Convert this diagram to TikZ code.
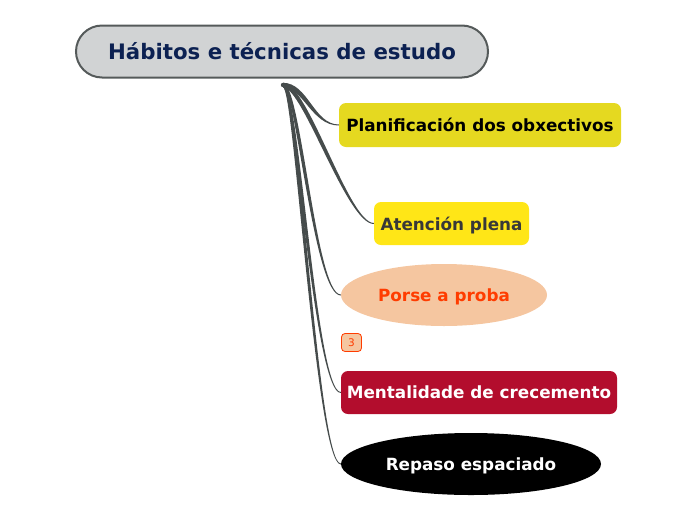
\documentclass[tikz,border=0pt]{standalone}
\usepackage{fontspec}
\setmainfont{DejaVu Sans}
\usetikzlibrary{shapes.geometric,calc}

\definecolor{rootfill}{HTML}{D1D3D4}
\definecolor{rootline}{HTML}{555A5A}
\definecolor{rootink}{HTML}{0C2152}
\definecolor{twigcol}{HTML}{464C4C}
\definecolor{planfill}{HTML}{E5D920}
\definecolor{atenfill}{HTML}{FFE617}
\definecolor{atenink}{HTML}{383838}
\definecolor{probafill}{HTML}{F5C6A0}
\definecolor{probaink}{HTML}{FF3C00}
\definecolor{mentfill}{HTML}{B30D2D}

% tapered branch from the hub to the west side of a topic
\newcommand{\twig}[3]{%
  \fill[twigcol] ($(hub)+(0,-2.2)$) .. controls ($(hub)+(#2,-2.2)$) and ($(#1.west)+(-#3,-0.5)$) .. ($(#1.west)+(0,-0.5)$)
    -- ($(#1.west)+(0,0.5)$) .. controls ($(#1.west)+(-#3-2,0.5)$) and ($(hub)+(#2-5,2.2)$) .. ($(hub)+(0,2.2)$) -- cycle;}

\begin{document}
\begin{tikzpicture}[x=1pt,y=-1pt,
    topic/.style={font=\fontsize{16.8}{19}\selectfont\bfseries,inner sep=0pt,text depth=0pt},
    box/.style={topic,rectangle,rounded corners=7pt,minimum height=43pt},
    oval/.style={topic,ellipse,minimum height=62pt}]
  \useasboundingbox (0,0) rectangle (696,520);

  \node[rectangle, rounded corners=26pt, draw=rootline, line width=2pt, fill=rootfill, text=rootink,
        minimum width=412pt, minimum height=52pt, font=\fontsize{21.3}{25}\selectfont\bfseries] (0) at (282,51.5) {Hábitos e técnicas de estudo};
  \coordinate (hub) at (283,85);

  \node[box, fill=planfill, text=black, minimum width=282pt, minimum height=44pt] (1) at (480,125) {Planificación dos obxectivos};
  \node[box, fill=atenfill, text=atenink, minimum width=155pt] (2) at (451.5,223.5) {Atención plena};
  \node[oval, fill=probafill, text=probaink, minimum width=206pt] (3) at (444,295) {Porse a proba};
  \node[rectangle, rounded corners=3.5pt, draw=probaink, fill=probafill, text=probaink, line width=0.8pt,
        minimum width=20pt, minimum height=18pt, inner sep=0pt, font=\fontsize{10.5}{12}\selectfont] (c3) at (351.5,342.5) {3};
  \node[box, fill=mentfill, text=white, minimum width=276pt] (4) at (479,392.5) {Mentalidade de crecemento};
  \node[oval, fill=black, text=white, minimum width=260pt] (5) at (471,464) {Repaso espaciado};

  \twig{1}{25}{25}
  \twig{2}{25}{25}
  \twig{3}{18}{25}
  \twig{4}{16}{25}
  \twig{5}{16}{23}
  \fill[twigcol] (hub) circle (2.2pt);
\end{tikzpicture}
\end{document}
